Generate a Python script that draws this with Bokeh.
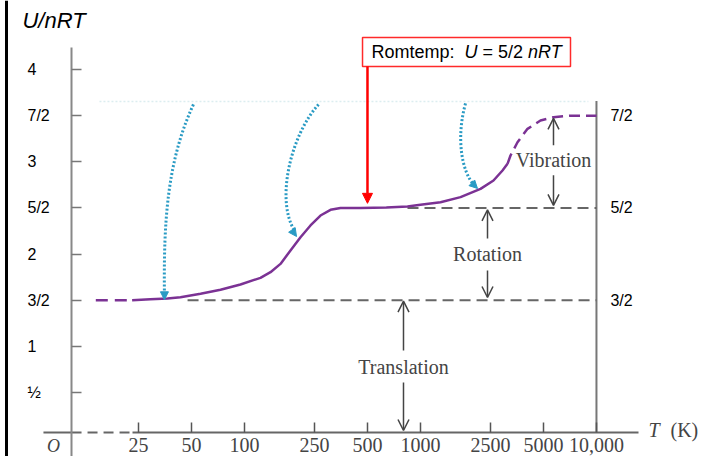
from bokeh.plotting import figure
from bokeh.models import (Range1d, LinearAxis, LogAxis, FixedTicker, Arrow,
                          NormalHead, OpenHead, Span, ColumnDataSource, LogScale)
from bokeh.core.properties import value
from bokeh.embed import file_html
from bokeh.resources import INLINE

# ---------------- data ----------------
# temperature (K) and U/nRT of a diatomic gas (H2)
T_solid = [23, 29.2, 36.5, 43.3, 56.3, 73.1, 94.9, 123.3, 140.6, 160.2, 182.6,
           208.2, 237.2, 270.4, 308.3, 351.3, 456, 640, 844, 1000, 1300, 1689,
           2194, 2600, 2925, 3123]
U_solid = [1.50, 1.51, 1.52, 1.533, 1.57, 1.613, 1.671, 1.743, 1.804, 1.894,
           2.039, 2.183, 2.31, 2.418, 2.48, 2.50, 2.50, 2.505, 2.515, 2.534,
           2.562, 2.617, 2.707, 2.797, 2.906, 2.978]
T_dash_lo = [14.3, 23]
U_dash_lo = [1.50, 1.50]
T_dash_hi = [3123, 3248, 3559, 4057, 4808, 5700, 7118, 10000]
U_dash_hi = [2.978, 3.068, 3.212, 3.357, 3.447, 3.483, 3.50, 3.50]

# axis ticks
x_ticks = [25, 50, 100, 250, 500, 1000, 2500, 5000, 10000]
x_labels = ["25", "50", "100", "250", "500", "1000", "2500", "5000", "10,000"]
y_ticks = [0.5, 1, 1.5, 2, 2.5, 3, 3.5, 4]
y_labels = ["½", "1", "3/2", "2", "5/2", "3", "7/2", "4"]
r_ticks = [1.5, 2.5, 3.5]
r_labels = ["3/2", "5/2", "7/2"]

# reference levels (gray dashed)
lvl_T0 = [47.5, 844]
lvl_T1 = [10000, 10000]
lvl_U = [1.5, 2.5]

# labelled double arrows: Translation / Rotation / Vibration
mode_names = ["Translation", "Rotation", "Vibration"]
mode_T = [801, 2404, 5700]
mode_text_U = [0.782, 1.997, 3.015]
mode_lo = [0.089, 1.53, 2.527]
mode_lo_gap = [0.609, 1.822, 2.853]
mode_hi_gap = [0.956, 2.169, 3.178]
mode_hi = [1.49, 2.48, 3.47]

# dotted blue pointers (cubic bezier)
bz_x0 = [51.3, 263.5, 1803]
bz_y0 = [3.621, 3.621, 3.632]
bz_cx0 = [36.5, 182.7, 1602]
bz_cy0 = [3.014, 3.285, 3.285]
bz_cx1 = [34.7, 150.1, 1689]
bz_cy1 = [2.364, 2.581, 2.906]
bz_x1 = [35.1, 192.5, 2028]
bz_y1 = [1.556, 2.256, 2.743]
bz_head_xs = [35.1, 180.3, 1924]
bz_head_ys = [1.66, 2.299, 2.787]
bz_head_xe = [35.1, 197.6, 2109]
bz_head_ye = [1.505, 2.191, 2.711]

# axis geometry (data units)
X_RANGE = (4.1103, 42191)
Y_RANGE = (-0.19285, 4.74756)
YAX_T = 10.41       # where the U axis crosses
YLAB_T = 5.853      # where the U tick labels start
XAX_U = 0.067       # where the T axis crosses
RIGHT_T = 10000

# ---------------- figure ----------------
p = figure(width=706, height=456, x_axis_type="log",
           x_axis_location=None, y_axis_location=None,
           x_range=Range1d(*X_RANGE), y_range=Range1d(*Y_RANGE),
           output_backend="svg", toolbar_location=None, min_border=0,
           outline_line_color=None, background_fill_color="white",
           border_fill_color="white")
p.x_scale = LogScale()
p.xgrid.grid_line_color = None
p.ygrid.grid_line_color = None

SANS = "Liberation Sans"
SERIF = "Liberation Serif"
PURPLE = "#7b3294"
GRAY = "#666666"
DARK = "#444444"
BLUE = "#2a9bc4"

# left border
p.add_layout(Span(location=4.446, dimension="height", line_color="black",
                  line_width=3))

# faint guide
p.line([15, 9000], [3.654, 3.654], line_color="#dcedf0", line_width=1.5,
       line_dash="2 2")

# U axis: line and ticks
yax = LinearAxis(fixed_location=YAX_T, ticker=FixedTicker(ticks=y_ticks),
                 major_label_overrides={t: "" for t in y_ticks},
                 bounds=(-0.4, 4.24))
yax.axis_line_color = "#888888"
yax.axis_line_width = 2
yax.major_tick_in = 10
yax.major_tick_out = 0
yax.major_tick_line_color = "#777777"
yax.major_tick_line_width = 1.5
yax.minor_tick_line_color = None
p.add_layout(yax, "left")

# U axis: left-aligned tick labels
ylab = LinearAxis(fixed_location=YLAB_T, ticker=FixedTicker(ticks=y_ticks),
                  major_label_overrides=dict(zip(y_ticks, y_labels)))
ylab.axis_line_color = None
ylab.major_tick_in = 0
ylab.major_tick_out = 0
ylab.major_tick_line_color = None
ylab.minor_tick_line_color = None
ylab.major_label_standoff = 0
ylab.major_label_text_font = SANS
ylab.major_label_text_font_size = "16px"
ylab.major_label_text_color = "black"
p.add_layout(ylab, "right")

# T axis
xax = LogAxis(fixed_location=XAX_U, ticker=FixedTicker(ticks=x_ticks),
              major_label_overrides=dict(zip(x_ticks, x_labels)),
              bounds=(23.1, 17340))
xax.axis_line_color = GRAY
xax.axis_line_width = 2
xax.major_tick_in = 10
xax.major_tick_out = 0
xax.major_tick_line_color = "#555555"
xax.major_tick_line_width = 1.5
xax.minor_tick_line_color = None
xax.major_label_standoff = 5
xax.major_label_text_font = SERIF
xax.major_label_text_font_size = "20px"
xax.major_label_text_color = DARK
p.add_layout(xax, "below")

# right labels
rax = LinearAxis(fixed_location=RIGHT_T, ticker=FixedTicker(ticks=r_ticks),
                 major_label_overrides=dict(zip(r_ticks, r_labels)))
rax.axis_line_color = None
rax.major_tick_in = 0
rax.major_tick_out = 0
rax.minor_tick_line_color = None
rax.major_tick_line_color = None
rax.major_label_standoff = 14
rax.major_label_text_font = SANS
rax.major_label_text_font_size = "16px"
rax.major_label_text_color = "black"
p.add_layout(rax, "right")

# right vertical line
p.segment(x0=[RIGHT_T], y0=[XAX_U], x1=[RIGHT_T], y1=[3.66],
          line_color="#777777", line_width=2)

# T axis continuation left of origin
p.line([7.21, YAX_T], [XAX_U, XAX_U], line_color=GRAY, line_width=2)
p.line([YAX_T, 23.1], [XAX_U, XAX_U], line_color=GRAY, line_width=2,
       line_dash="10 6")

# gray reference levels
p.segment(x0=lvl_T0, y0=lvl_U, x1=lvl_T1, y1=lvl_U, line_color=GRAY,
          line_width=2, line_dash="11 6")

# curve
p.line(T_dash_lo, U_dash_lo, line_color=PURPLE, line_width=2.5,
       line_dash="12 7")
p.line(T_solid, U_solid, line_color=PURPLE, line_width=2.5,
       line_join="round")
p.line(T_dash_hi, U_dash_hi, line_color=PURPLE, line_width=2.5,
       line_dash="11 6", line_join="round")

# labelled double arrows
arr_src = ColumnDataSource(dict(
    xs=mode_T + mode_T, ys=mode_hi_gap + mode_lo_gap,
    xe=mode_T + mode_T, ye=mode_hi + mode_lo))
p.add_layout(Arrow(end=OpenHead(size=11, line_color=DARK, line_width=1.5),
                   x_start="xs", y_start="ys", x_end="xe", y_end="ye",
                   source=arr_src, line_color=DARK, line_width=1.5))
p.text(x=mode_T, y=mode_text_U, text=mode_names, text_font=value(SERIF),
       text_font_size="20px", text_color=DARK, text_align="center",
       text_baseline="middle")

# blue dotted pointers
p.bezier(x0=bz_x0, y0=bz_y0, x1=bz_x1, y1=bz_y1, cx0=bz_cx0, cy0=bz_cy0,
         cx1=bz_cx1, cy1=bz_cy1, line_color=BLUE, line_width=3,
         line_dash="2 2")
head_src = ColumnDataSource(dict(xs=bz_head_xs, ys=bz_head_ys,
                                 xe=bz_head_xe, ye=bz_head_ye))
p.add_layout(Arrow(end=NormalHead(size=8, fill_color=BLUE, line_color=BLUE),
                   x_start="xs", y_start="ys", x_end="xe", y_end="ye",
                   source=head_src, line_alpha=0))

# room temperature annotation
p.quad(left=[468.6], right=[7120], top=[4.347], bottom=[4.033],
       fill_color="white", line_color="#ff2a2a", line_width=1.5)
box_T = [527, 1779, 2252, 4083]
box_txt = ["Romtemp:", "U", "= 5/2", "nRT"]
box_style = ["normal", "italic", "normal", "italic"]
for t, s, st in zip(box_T, box_txt, box_style):
    p.text(x=[t], y=[4.19], text=[s], text_font=value(SANS),
           text_font_size="18px", text_font_style=st, text_color="black",
           text_align="left", text_baseline="middle")
p.add_layout(Arrow(end=NormalHead(size=10, fill_color="red", line_color="red"),
                   x_start=500, y_start=4.033, x_end=500, y_end=2.55,
                   line_color="red", line_width=2.5))

# axis titles
p.text(x=[5.48], y=[4.531], text=["U/nRT"], text_font=value(SANS),
       text_font_size="22px", text_font_style="italic", text_color="black",
       text_align="left", text_baseline="middle")
p.text(x=[19760], y=[0.09], text=["T"], text_font=value(SERIF),
       text_font_size="20px", text_font_style="italic", text_color=DARK,
       text_align="left", text_baseline="middle")
p.text(x=[26340], y=[0.09], text=["(K)"], text_font=value(SERIF),
       text_font_size="20px", text_color=DARK, text_align="left",
       text_baseline="middle")
p.text(x=[8.22], y=[-0.19], text=["O"], text_font=value(SERIF),
       text_font_size="18px", text_font_style="italic", text_color=DARK,
       text_align="center", text_baseline="bottom")

open("out.html", "w").write(file_html(p, INLINE))
